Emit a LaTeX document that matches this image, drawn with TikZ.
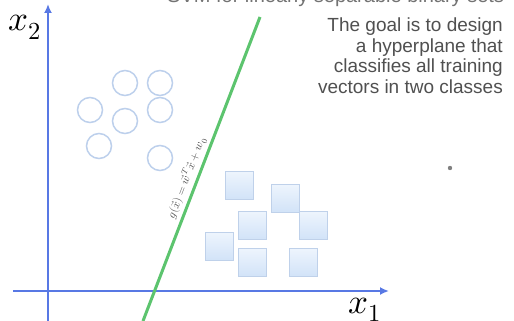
\documentclass[tikz,border=0pt]{standalone}
\usepackage{fontspec}
\setmainfont{Liberation Sans}
\usepackage{unicode-math}
\setmathfont{Latin Modern Math}
\usetikzlibrary{arrows.meta}
\definecolor{axisblue}{HTML}{5878E4}
\definecolor{linegreen}{HTML}{5CC46E}
\definecolor{circ}{HTML}{BDD0EC}
\definecolor{sqtop}{HTML}{EEF5FD}
\definecolor{sqbot}{HTML}{D2E3F8}
\definecolor{sqedge}{HTML}{BFD1EA}
\definecolor{txtgray}{HTML}{505050}
\tikzset{
  axis/.style={axisblue, line width=2pt, -{Latex[length=9pt,width=8pt]}},
  pt/.style={circle, draw=circ, line width=1.5pt, minimum size=25pt, inner sep=0pt},
  sq/.style={rectangle, draw=sqedge, line width=1pt, top color=sqtop, bottom color=sqbot, minimum size=28pt, inner sep=0pt},
  body/.style={font=\fontsize{19}{22}\selectfont, text=txtgray, inner sep=0pt, anchor=base east},
  axlab/.style={font=\fontsize{35}{40}\selectfont, inner sep=0pt, anchor=base west}
}
\begin{document}
\begin{tikzpicture}[x=1pt,y=-1pt]
\useasboundingbox (0,0) rectangle (514,321);
\fill[white] (0,0) rectangle (514,321);
% clipped title
\begin{scope}
\clip (0,0) rectangle (514,321);
\node[font=\fontsize{20}{24}\selectfont, text=txtgray!80, inner sep=0pt, anchor=base west] (title) at (167,2.5) {SVM for linearly separable binary sets};
\end{scope}
% axes
\coordinate (yb) at (48,321);
\coordinate (yt) at (48,4);
\coordinate (xl) at (13,291);
\coordinate (xr) at (389,291);
\draw[axis] (yb) -- (yt);
\draw[axis] (xl) -- (xr);
\node[axlab] (x2) at (8,31) {$x_2$};
\node[axlab] (x1) at (348,313) {$x_1$};
% hyperplane
\coordinate (ht) at (260,17);
\coordinate (hb) at (143,321);
\draw[linegreen, line width=3pt] (hb) -- (ht);
\node[rotate=69, font=\fontsize{11.5}{13}\selectfont, text=txtgray, inner sep=0pt] (g) at (187,178) {$g(\vec{x}) = \vec{w}^T\vec{x} + w_0$};
% class 1
\node[pt] (c1) at (125,83) {};
\node[pt] (c2) at (160,83) {};
\node[pt] (c3) at (90,110) {};
\node[pt] (c4) at (125,121) {};
\node[pt] (c5) at (160,110) {};
\node[pt] (c6) at (99,146) {};
\node[pt] (c7) at (160,158) {};
% class 2
\node[sq] (s1) at (239,185) {};
\node[sq] (s2) at (285,198) {};
\node[sq] (s3) at (252,225) {};
\node[sq] (s4) at (313,225) {};
\node[sq] (s5) at (219,246) {};
\node[sq] (s6) at (252,262) {};
\node[sq] (s7) at (303,262) {};
% text
\node[body] (t1) at (503,32) {The goal is to design};
\node[body] (t2) at (503,52.5) {a hyperplane that};
\node[body] (t3) at (503,73) {classifies all training};
\node[body] (t4) at (503,93.5) {vectors in two classes};
% dot
\fill[gray] (450,168) circle (2.2pt);
\end{tikzpicture}
\end{document}
